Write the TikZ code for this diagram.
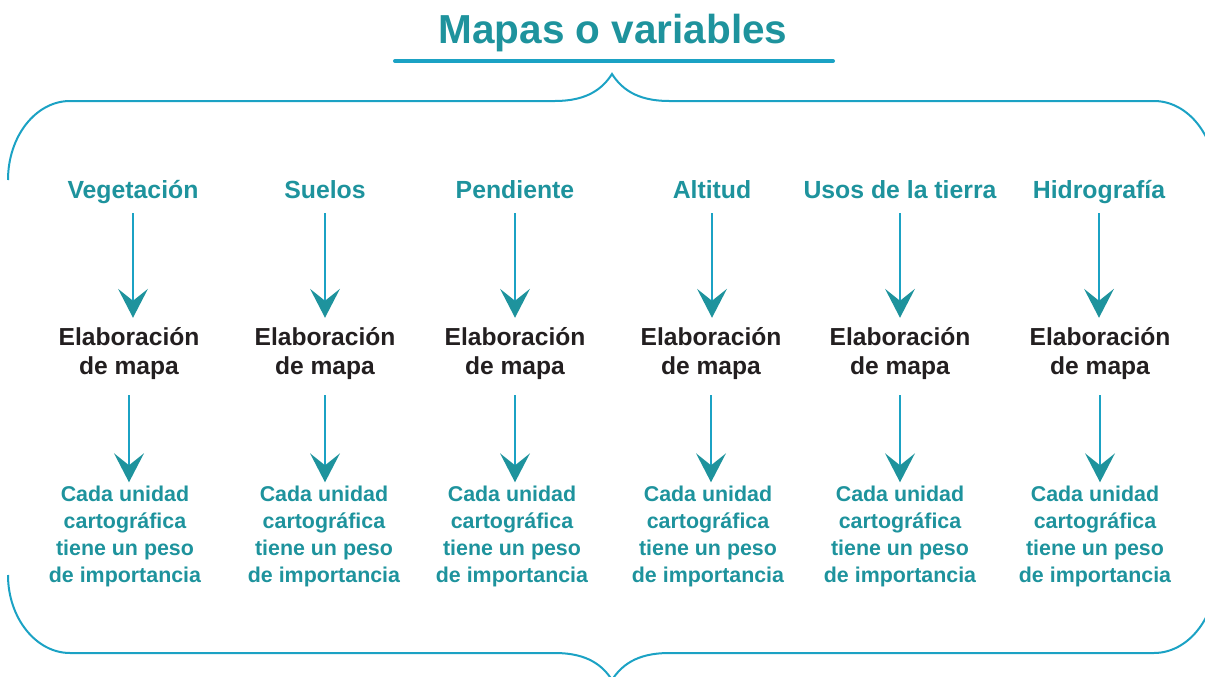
\documentclass[tikz,border=0pt]{standalone}
\usepackage{fontspec}
\setmainfont{Liberation Sans}
\usetikzlibrary{arrows.meta}
\definecolor{tealtext}{HTML}{1E939D}
\definecolor{tealline}{HTML}{1BA2C4}
\definecolor{darktext}{HTML}{231F20}
\tikzset{
  title/.style = {text=tealtext, font=\bfseries\fontsize{40.5}{46}\selectfont, anchor=base, inner sep=0pt},
  var/.style = {text=tealtext, font=\bfseries\fontsize{24.8}{29}\selectfont, anchor=base, inner sep=0pt, text depth=5pt},
  mapa/.style = {text=darktext, font=\bfseries\fontsize{24.6}{29}\selectfont, align=center, anchor=base, inner sep=0pt},
  peso/.style = {text=tealtext, font=\bfseries\fontsize{21.4}{27}\selectfont, align=center, anchor=base, inner sep=0pt},
  down/.style = {draw=tealline, line width=2pt,
    -{Stealth[length=29pt, width=30pt, inset=12pt, line width=0pt, color=tealtext]}},
  brace/.style = {draw=tealline, line width=2pt},
}
\begin{document}
\begin{tikzpicture}[x=1pt, y=-1pt]
  \useasboundingbox (0,0) rectangle (1205,677);
  \node[title] (T) at (613,44) {Mapas o variables};
  \draw[tealline, line width=4pt, line cap=round] (395,61) -- (833,61);
  % llaves
  \draw[brace] (8,180) .. controls (8,136) and (36,101) .. (70,101) -- (555,101)
    .. controls (588,101) and (603,88) .. (612,74)
    .. controls (621,88) and (636,101) .. (669,101) -- (1154,101)
    .. controls (1188,101) and (1216,136) .. (1216,180);
  \draw[brace] (8,575) .. controls (8,618) and (36,653) .. (70,653) -- (555,653)
    .. controls (588,653) and (603,666) .. (612,680)
    .. controls (621,666) and (636,653) .. (669,653) -- (1154,653)
    .. controls (1188,653) and (1216,618) .. (1216,575);

  \node[var] (A) at (133,198) {Vegetación};
  \node[var] (B) at (325,198) {Suelos};
  \node[var] (C) at (515,198) {Pendiente};
  \node[var] (D) at (712,198) {Altitud};
  \node[var] (E) at (900,198) {Usos de la tierra};
  \node[var] (F) at (1099,198) {Hidrografía};

  \node[mapa] (G) at (129,374) {Elaboración\\de mapa};
  \node[mapa] (H) at (325,374) {Elaboración\\de mapa};
  \node[mapa] (I) at (515,374) {Elaboración\\de mapa};
  \node[mapa] (J) at (711,374) {Elaboración\\de mapa};
  \node[mapa] (K) at (900,374) {Elaboración\\de mapa};
  \node[mapa] (L) at (1100,374) {Elaboración\\de mapa};

  \node[peso] (M) at (125,582) {Cada unidad\\cartográfica\\tiene un peso\\de importancia};
  \node[peso] (N) at (324,582) {Cada unidad\\cartográfica\\tiene un peso\\de importancia};
  \node[peso] (O) at (512,582) {Cada unidad\\cartográfica\\tiene un peso\\de importancia};
  \node[peso] (P) at (708,582) {Cada unidad\\cartográfica\\tiene un peso\\de importancia};
  \node[peso] (Q) at (900,582) {Cada unidad\\cartográfica\\tiene un peso\\de importancia};
  \node[peso] (R) at (1095,582) {Cada unidad\\cartográfica\\tiene un peso\\de importancia};

  \draw[down] ([yshift=-10pt]A.south) -- ([yshift=9pt]A.south |- G.north);
  \draw[down] ([yshift=-10pt]B.south) -- ([yshift=9pt]B.south |- H.north);
  \draw[down] ([yshift=-10pt]C.south) -- ([yshift=9pt]C.south |- I.north);
  \draw[down] ([yshift=-10pt]D.south) -- ([yshift=9pt]D.south |- J.north);
  \draw[down] ([yshift=-10pt]E.south) -- ([yshift=9pt]E.south |- K.north);
  \draw[down] ([yshift=-10pt]F.south) -- ([yshift=9pt]F.south |- L.north);

  \draw[down] ([yshift=-16pt]G.south) -- ([yshift=3pt]G.south |- M.north);
  \draw[down] ([yshift=-16pt]H.south) -- ([yshift=3pt]H.south |- N.north);
  \draw[down] ([yshift=-16pt]I.south) -- ([yshift=3pt]I.south |- O.north);
  \draw[down] ([yshift=-16pt]J.south) -- ([yshift=3pt]J.south |- P.north);
  \draw[down] ([yshift=-16pt]K.south) -- ([yshift=3pt]K.south |- Q.north);
  \draw[down] ([yshift=-16pt]L.south) -- ([yshift=3pt]L.south |- R.north);
\end{tikzpicture}
\end{document}
